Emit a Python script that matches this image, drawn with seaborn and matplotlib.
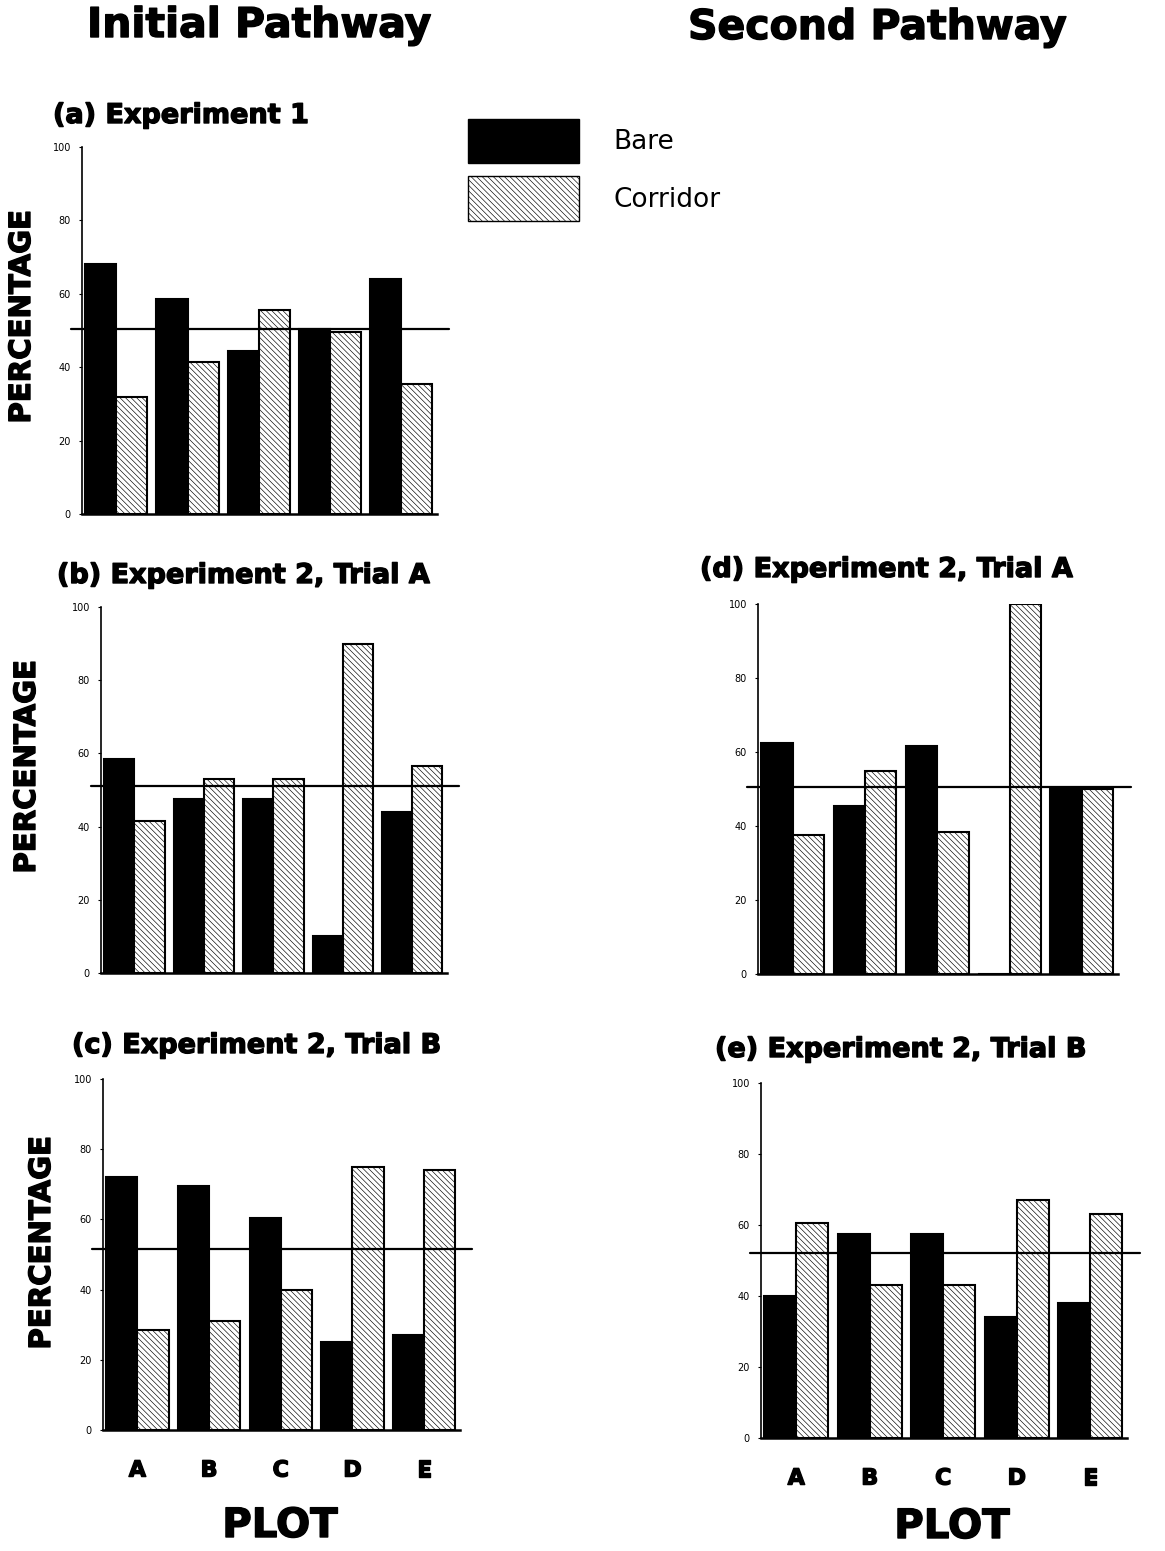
import matplotlib
matplotlib.use("Agg")
import matplotlib.pyplot as plt
import matplotlib.patheffects as pe
from matplotlib.patches import Patch
import seaborn as sns
import pandas as pd

# values (percent of animals per plot)
plots = ["A", "B", "C", "D", "E"]
covers = ["Bare", "Corridor"]

exp1_bare = [68, 58.5, 44.5, 50.5, 64]
exp1_corridor = [32, 41.5, 55.5, 49.5, 35.5]

exp2a_init_bare = [58.5, 47.5, 47.5, 10, 44]
exp2a_init_corridor = [41.5, 53, 53, 90, 56.5]

exp2b_init_bare = [72, 69.5, 60.5, 25, 27]
exp2b_init_corridor = [28.5, 31, 40, 75, 74]

exp2a_second_bare = [62.5, 45.5, 61.5, 0, 50]
exp2a_second_corridor = [37.5, 55, 38.5, 100, 50]

exp2b_second_bare = [40, 57.5, 57.5, 34, 38]
exp2b_second_corridor = [60.5, 43, 43, 67, 63]

# 50 % reference line as drawn in each panel
ref_lines = [50.5, 51, 51.5, 50.5, 52]

titles = ["(a) Experiment 1", "(b) Experiment 2, Trial A", "(c) Experiment 2, Trial B",
          "(d) Experiment 2, Trial A", "(e) Experiment 2, Trial B"]

W, H = 1165, 1551
HATCH = "\\\\\\\\\\\\"

sns.set_style("ticks")
plt.rcParams["font.family"] = ["DejaVu Sans"]
plt.rcParams["hatch.linewidth"] = 0.45
for key in ["text.color", "axes.labelcolor", "xtick.color", "ytick.color", "axes.edgecolor"]:
    plt.rcParams[key] = "black"

# make the bold sans look closer to the heavy display face of the original
thick = [pe.withStroke(linewidth=1.0, foreground="black")]

fig = plt.figure(figsize=(W / 100, H / 100), dpi=100)


def px_axes(left, top, right, bottom):
    # rectangle given in pixels of the reference picture
    return fig.add_axes([left / W, 1 - bottom / H, (right - left) / W, (bottom - top) / H])


def panel(ax, bare, corridor, ref, show_x):
    df = pd.DataFrame({
        "plot": plots * 2,
        "cover": ["Bare"] * 5 + ["Corridor"] * 5,
        "pct": list(bare) + list(corridor),
    })
    sns.barplot(data=df, x="plot", y="pct", hue="cover", hue_order=covers,
                palette={"Bare": "black", "Corridor": "white"},
                edgecolor="black", linewidth=1.5, width=0.87, gap=0,
                errorbar=None, legend=False, ax=ax)
    for bar in ax.containers[1]:
        bar.set_hatch(HATCH)
    ax.axhline(ref, xmin=-0.03, xmax=1.035, color="black", lw=1.6, clip_on=False, zorder=5)
    ax.set_xlim(-0.48, 4.5)
    ax.set_ylim(0, 100)
    ax.set_yticks([0, 20, 40, 60, 80, 100])
    ax.tick_params(axis="y", labelsize=7, length=2, width=0.8, pad=6)
    ax.set_xlabel("")
    ax.set_ylabel("")
    sns.despine(ax=ax)
    ax.spines["left"].set_linewidth(1.2)
    ax.spines["bottom"].set_linewidth(1.8)
    if show_x:
        ax.tick_params(axis="x", length=0, pad=22, labelsize=16)
        for t in ax.get_xticklabels():
            t.set_fontweight("heavy")
            t.set_path_effects(thick)
    else:
        ax.set_xticks([])


ax_a = px_axes(82, 147, 437, 514)
ax_b = px_axes(101, 607, 447, 973)
ax_c = px_axes(103, 1079, 460, 1430)
ax_d = px_axes(758, 604, 1118, 974)
ax_e = px_axes(761, 1083, 1127, 1438)

panel(ax_a, exp1_bare, exp1_corridor, ref_lines[0], False)
panel(ax_b, exp2a_init_bare, exp2a_init_corridor, ref_lines[1], False)
panel(ax_c, exp2b_init_bare, exp2b_init_corridor, ref_lines[2], True)
panel(ax_d, exp2a_second_bare, exp2a_second_corridor, ref_lines[3], False)
panel(ax_e, exp2b_second_bare, exp2b_second_corridor, ref_lines[4], True)


def ftext(x, y, s, **kw):
    return fig.text(x / W, 1 - y / H, s, fontweight="heavy", path_effects=thick, **kw)


# column headers
ftext(87, 37, "Initial Pathway", fontsize=29.5, ha="left", va="baseline")
ftext(688, 39, "Second Pathway", fontsize=29.5, ha="left", va="baseline")

# panel titles
title_pos = [(53, 123), (57, 583), (72, 1053), (700, 577), (715, 1057)]
for (x, y), t in zip(title_pos, titles):
    ftext(x, y, t, fontsize=19.5, ha="left", va="baseline")

# y labels on the left column
for x, y in [(22, 317), (27, 767), (42, 1243)]:
    ftext(x, y, "PERCENTAGE", fontsize=21, rotation=90, ha="center", va="center")

# x labels under the bottom panels
ftext(280, 1537, "PLOT", fontsize=29, ha="center", va="baseline")
ftext(952, 1538, "PLOT", fontsize=29, ha="center", va="baseline")

handles = [Patch(facecolor="black", edgecolor="black", label="Bare"),
           Patch(facecolor="white", edgecolor="black", hatch=HATCH, label="Corridor")]
fig.legend(handles=handles, loc="upper left", bbox_to_anchor=(468 / W, 1 - 119 / H),
           frameon=False, fontsize=19, handlelength=4.2, handleheight=2.2,
           labelspacing=0.5, handletextpad=1.3, borderpad=0, borderaxespad=0)

fig.savefig("out.png", dpi=100)
